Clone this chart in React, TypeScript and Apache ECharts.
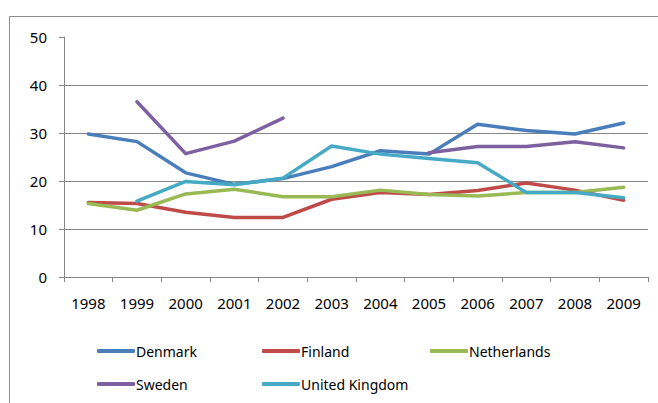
import React, { useEffect, useRef } from "react";
import * as echarts from "echarts";

const years = ["1998", "1999", "2000", "2001", "2002", "2003", "2004", "2005", "2006", "2007", "2008", "2009"];
const denmark = [29.8, 28.2, 21.7, 19.3, 20.5, 23.0, 26.3, 25.6, 31.8, 30.5, 29.8, 32.1];
const finland = [15.5, 15.3, 13.5, 12.4, 12.4, 16.2, 17.6, 17.2, 18.0, 19.6, 18.1, 16.0];
const netherlands = [15.3, 13.9, 17.3, 18.3, 16.7, 16.7, 18.1, 17.2, 16.9, 17.6, 17.6, 18.7];
const sweden = [null, 36.5, 25.7, 28.3, 33.1, null, null, 25.9, 27.2, 27.2, 28.2, 26.9];
const uk = [null, 15.8, 19.9, 19.2, 20.6, 27.3, 25.6, 24.7, 23.8, 17.6, 17.6, 16.5];

const seriesNames = ["Denmark", "Finland", "Netherlands", "Sweden", "United Kingdom"];
const seriesData = [denmark, finland, netherlands, sweden, uk];
const colors = ["#4a7ebb", "#be4b48", "#98b954", "#7d60a0", "#46aac5"];
const legendPos = [
  [97, 344],
  [262, 344],
  [430, 344],
  [97, 377],
  [262, 377],
];

export default function App() {
  const ref = useRef<HTMLDivElement>(null);
  useEffect(() => {
    const chart = echarts.init(ref.current!, null, { renderer: "svg" });
    const font = "'Noto Sans', sans-serif";
    const grid = "#868686";
    chart.setOption({
      animation: false,
      color: colors,
      grid: { left: 64, right: 10, top: 37, bottom: 126 },
      legend: seriesNames.map((n, i) => ({
        data: [n],
        left: legendPos[i][0],
        top: legendPos[i][1],
        icon: "roundRect",
        itemWidth: 38,
        itemHeight: 4,
        itemGap: 0,
        padding: 0,
        textStyle: { fontFamily: font, fontSize: 14, color: "#000", padding: [0, 0, 0, -4] },
      })),
      xAxis: {
        type: "category",
        data: years,
        boundaryGap: true,
        axisLine: { lineStyle: { color: grid, width: 1 } },
        axisTick: { show: true, length: 5, lineStyle: { color: grid } },
        axisLabel: { fontFamily: font, fontSize: 15, color: "#000", margin: 18, interval: 0 },
      },
      yAxis: {
        type: "value",
        min: 0,
        max: 50,
        interval: 10,
        axisLine: { show: true, lineStyle: { color: grid, width: 1 } },
        axisTick: { show: true, length: 5, lineStyle: { color: grid } },
        axisLabel: { fontFamily: font, fontSize: 15, color: "#000", margin: 17 },
        splitLine: {
          show: true,
          lineStyle: { color: [grid, grid, grid, grid, grid, "rgba(0,0,0,0)"], width: 1 },
        },
      },
      graphic: [
        {
          type: "polyline",
          shape: { points: [[9.5, 410], [9.5, 16.5], [670, 16.5]] },
          style: { stroke: "#8c8c8c", lineWidth: 1, fill: null },
          silent: true,
        },
      ],
      series: seriesNames.map((n, i) => ({
        name: n,
        type: "line",
        data: seriesData[i],
        symbol: "none",
        connectNulls: false,
        lineStyle: { width: 3.5, color: colors[i], cap: "round", join: "round" },
        itemStyle: { color: colors[i] },
      })),
    });
    return () => chart.dispose();
  }, []);
  return <div ref={ref} style={{ position: "absolute", left: 0, top: 0, width: 658, height: 403, background: "#fff" }} />;
}
